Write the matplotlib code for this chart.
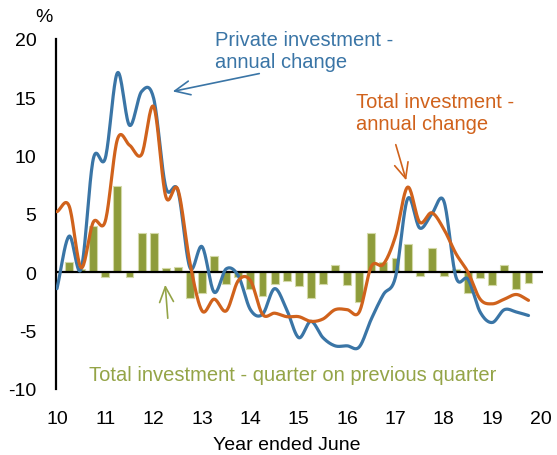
import numpy as np
import matplotlib
matplotlib.use("Agg")
import matplotlib.pyplot as plt

plt.rcParams['font.family'] = ['Liberation Sans', 'DejaVu Sans']

# quarterly positions (year ended June, 10 = 2010)
line_x = [10 + 0.25 * i for i in range(40)]
private_annual = [-1.4, 3.1, 0.3, 9.7, 9.8, 17.1, 12.6, 15.5, 14.9, 7.3,
                  7.0, 0.4, 2.2, -1.7, 0.3, -0.3, -3.2, -3.6, -1.4, -3.2,
                  -5.6, -4.2, -5.6, -6.3, -6.3, -6.4, -4.0, -1.9, -0.4, 6.3,
                  3.8, 5.0, 6.1, -0.4, -0.6, -3.4, -4.3, -3.2, -3.4, -3.7]
total_annual = [5.2, 5.7, 0.4, 4.3, 4.4, 11.4, 10.9, 10.1, 14.2, 6.5,
                7.1, 0.8, -3.3, -2.3, -3.3, -0.7, -0.7, -3.6, -3.5, -3.8,
                -3.8, -4.2, -4.0, -3.2, -3.2, -3.4, 0.5, 0.7, 3.1, 7.3,
                4.3, 5.1, 3.7, 1.6, 0.0, -2.3, -2.7, -2.3, -1.9, -2.4]
bar_x = [10 + 0.25 * i for i in range(1, 40)]
total_qoq = [0.9, 0.3, 4.0, -0.4, 7.4, -0.4, 3.4, 3.4, 0.4, 0.5,
             -2.2, -1.8, 1.4, -1.0, -0.4, -1.4, -2.0, -1.0, -0.7, -1.2,
             -2.2, -1.0, 0.6, -1.1, -2.5, 3.4, 0.9, 1.2, 2.4, -0.3,
             2.1, -0.3, 0.3, -1.8, -0.5, -1.1, 0.6, -1.4, -0.9]
xticks = list(range(10, 21))
yticks = [-10, -5, 0, 5, 10, 15, 20]

BLUE = '#3a75a6'
ORANGE = '#d0621c'
GREEN = '#8e9c3b'
GREEN_TXT = '#94a447'

W, H = 557, 456


def smooth(xs, ys, n=20):
    xs = np.asarray(xs, float)
    ys = np.asarray(ys, float)
    P = np.column_stack([xs, ys])
    P = np.vstack([2 * P[0] - P[1], P, 2 * P[-1] - P[-2]])
    out = []
    t = np.linspace(0, 1, n, endpoint=False)[:, None]
    for i in range(1, len(P) - 2):
        p0, p1, p2, p3 = P[i - 1], P[i], P[i + 1], P[i + 2]
        c = 0.5 * ((2 * p1) + (-p0 + p2) * t + (2 * p0 - 5 * p1 + 4 * p2 - p3) * t ** 2
                   + (-p0 + 3 * p1 - 3 * p2 + p3) * t ** 3)
        out.append(c)
    out.append(P[-2][None, :])
    out = np.vstack(out)
    return out[:, 0], out[:, 1]


def fp(x, y):
    return (x / W, 1 - y / H)


fig = plt.figure(figsize=(W / 100, H / 100), dpi=100)
ax = fig.add_axes([56 / W, 1 - 390 / H, (543 - 56) / W, (390 - 40) / H])

ax.bar(bar_x, total_qoq, width=0.165, color=GREEN, edgecolor='#d3d9a8',
       linewidth=0.8, zorder=2)
ax.axhline(0, color='black', lw=1.6, zorder=3)
sx, sy = smooth(line_x, private_annual)
ax.plot(sx, sy, color=BLUE, lw=2.3, zorder=4, solid_capstyle='round')
sx, sy = smooth(line_x, total_annual)
ax.plot(sx, sy, color=ORANGE, lw=2.3, zorder=5, solid_capstyle='round')

ax.set_xlim(9.98, 20.05)
ax.set_ylim(-10, 20)
ax.set_xticks(xticks)
ax.set_xticklabels([str(v) for v in xticks])
ax.set_yticks(yticks)
ax.set_yticklabels([str(v) for v in yticks])
ax.tick_params(axis='both', length=0, labelsize=14, colors='black')
ax.tick_params(axis='x', pad=15)
ax.tick_params(axis='y', pad=14)
for s in ['top', 'right', 'bottom']:
    ax.spines[s].set_visible(False)
ax.spines['left'].set_linewidth(1.6)

fig.text(*fp(287, 446), 'Year ended June', fontsize=14, ha='center', va='center')
fig.text(*fp(44, 17), '%', fontsize=14, ha='center', va='center')

ARW = '->,head_length=1.1,head_width=0.5'

fig.text(*fp(215, 51), 'Private investment -\nannual change', color=BLUE,
         fontsize=14.5, ha='left', va='center', linespacing=1.2)
ax.annotate('', xy=fp(170, 93), xycoords='figure fraction',
            xytext=fp(262, 74), textcoords='figure fraction',
            arrowprops=dict(arrowstyle=ARW, color=BLUE, lw=1.2))

fig.text(*fp(356, 114), 'Total investment -\nannual change', color=ORANGE,
         fontsize=14.5, ha='left', va='center', linespacing=1.2)
ax.annotate('', xy=fp(407, 184), xycoords='figure fraction',
            xytext=fp(395, 143), textcoords='figure fraction',
            arrowprops=dict(arrowstyle=ARW, color=ORANGE, lw=1.2))

fig.text(*fp(293, 376), 'Total investment - quarter on previous quarter',
         color=GREEN_TXT, fontsize=14.5, ha='center', va='center')
ax.annotate('', xy=fp(165, 283), xycoords='figure fraction',
            xytext=fp(168, 322), textcoords='figure fraction',
            arrowprops=dict(arrowstyle=ARW, color=GREEN_TXT, lw=1.2))

fig.savefig('out.png', dpi=100)
